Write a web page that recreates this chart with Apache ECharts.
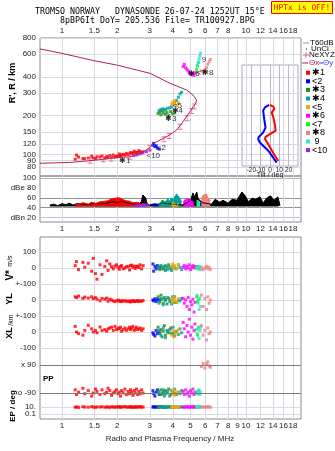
<!DOCTYPE html>
<html>
<head>
<meta charset="utf-8">
<script src="https://cdn.jsdelivr.net/npm/echarts@6.0.0/dist/echarts.min.js"></script>
<style>
  html, body { margin: 0; padding: 0; background: #fff; }
  #chart { width: 335px; height: 451px; }
</style>
</head>
<body>
<div id="chart"></div>
<script>
// axis ticks
const freqTicks = [1, 1.5, 2, 3, 4, 5, 6, 7, 8, 9, 10, 12, 14, 16, 18];
const freqLabelsTop = [1, 1.5, 2, 3, 4, 5, 6, 7, 8, 10, 12, 14, 16, 18];
const heightTicks = [80, 90, 100, 120, 150, 200, 300, 400, 600, 800];
const dbeTicks = [100, 80, 60, 40, 20];
const dbeTickText = ['100', 'dBe 80', '60', '40', 'dBn 20'];
const dbeLines = [20, 40, 60, 100];
const lowTicks = [500, 400, 300, 200, 100, 0, -100, -206, -381, -469, -512];
const lowTickText = ['100', '0', '+-100', '0', '+-100', '0', '-100', 'x 90', 'o -90', '10.', '0.1'];
const tiltTicks = [-20, -10, 0, 10, 20];

// profile (freq MHz, height km)
const profFreq = [0.76, 1.0, 1.5, 1.98, 3.01, 3.87, 4.76, 5.15, 5.39, 5.34, 5.15, 4.96, 4.56, 4.2, 3.86, 3.55, 3.14, 3.0, 2.65, 2.34, 1.98, 1.68, 1.42, 1.1, 0.76];
const profHeight = [658, 608, 533, 494, 426, 356, 316, 289, 264, 251, 234, 215, 180, 155, 142, 133, 122, 113, 101, 96, 94.4, 91.8, 89.5, 86.7, 85.5];
const neFreq = [1.42, 1.68, 1.85, 2.34, 3.0, 3.58, 3.83, 4.38, 4.79, 5.07, 5.24];
const neHeight = [89.5, 91.8, 93, 96, 113, 131, 139, 164, 191, 217, 235];

// echoes: frequency, virtual height, amplitude, V*, YL, XL, PP, EP
const fRed = [1.18,1.2,1.23,1.3,1.33,1.39,1.45,1.48,1.52,1.55,1.61,1.65,1.71,1.75,1.78,1.82,1.86,1.9,1.94,1.98,2.02,2.05,2.08,2.11,2.15,2.2,2.24,2.29,2.33,2.36,2.39,2.43,2.47,2.5,2.54,2.58,2.62,2.66,2.71,2.76];
const hRed = [92,99,95.6,93,92.8,94,97,94,93,96,95.6,97.5,94,96,95.6,98,96,99,95.6,97,97.3,101,98,99,100,99,102,100,101,103.5,101.7,103,106,102.5,104,103.5,107,105,103.5,105];
const aRed = [47,49,46,50,48,47,51,49,48,50,52,50,53,55,54,57,58,60,59,61,60,58,59,57,56,55,54,56,53,52,51,53,50,49,51,48,50,47,46,48];
const vRed = [15,40,-10,35,5,30,-20,60,-35,-70,20,-40,10,45,-15,25,8,-5,12,20,5,-8,10,15,-5,0,8,10,-12,15,18,5,12,-3,8,12,2,20,-6,15];
const ylRed = [20,15,25,10,18,12,20,8,15,5,-5,10,5,12,-8,5,0,-5,-10,-5,0,-8,-5,-10,-3,-8,-5,-10,-5,-12,-8,-3,-10,-5,-8,-3,-10,-5,-8,-3];
const xlRed = [35,0,-10,-20,10,42,20,0,10,-5,31,10,15,5,20,25,30,10,35,15,25,20,30,5,15,25,10,20,30,15,25,35,10,20,30,15,20,25,10,20];
const ppRed = [-70,-100,-85,-60,-95,-75,-110,-90,-65,-80,-100,-70,-95,-85,-60,-75,-105,-90,-80,-70,-95,-85,-110,-75,-90,-65,-100,-80,-95,-70,-85,-105,-75,-90,-65,-100,-80,-95,-70,-90];
const epRed = [9,11,8,12,10,9,13,10,8,11,10,12,9,10,11,8,12,10,9,11,10,12,9,10,11,13,10,9,12,10,11,8,10,12,9,11,10,13,9,10];

const fBlue = [3.12,3.15,3.2,3.25,3.3,3.38];
const hBlue = [118,122,115,117,112,110];
const aBlue = [46,50,48,52,47,45];
const vBlue = [25,-20,10,-5,15,0];
const ylBlue = [0,-5,8,-10,5,0];
const xlBlue = [-5,-15,-25,10,-10,0];
const ppBlue = [-75,-95,-110,-85,-70,-100];
const epBlue = [10,12,9,11,10,13];

const fGreen = [3.33,3.4,3.45,3.5,3.55,3.6,3.65,3.72,3.8,3.9,4.0,4.1];
const hGreen = [208,214,203,218,210,222,205,212,200,215,207,210];
const aGreen = [48,52,46,55,50,47,53,49,45,51,48,46];
const vGreen = [5,-10,15,0,-5,10,-15,5,20,-5,10,0];
const ylGreen = [20,-10,30,5,-20,15,0,-25,10,-5,20,-15];
const xlGreen = [30,-10,15,-30,5,40,-20,10,-5,25,-15,0];
const ppGreen = [-80,-100,-70,-95,-85,-110,-75,-90,-65,-100,-80,-95];
const epGreen = [9,11,10,12,8,10,11,9,12,10,9,11];

const fTeal = [3.37,3.45,3.55,3.65,3.75,3.85,3.94,4.02,4.1,4.2,4.29,4.38,4.47];
const hTeal = [219,224,226,222,228,230,234,248,255,262,278,295,304];
const aTeal = [48,52,55,50,58,53,60,55,62,68,64,58,52];
const vTeal = [0,10,-5,15,-10,5,-15,10,0,-5,20,5,-10];
const ylTeal = [-20,10,-30,0,15,-10,-25,5,20,-15,0,-5,10];
const xlTeal = [10,-20,25,-35,0,15,-10,30,-25,5,-15,20,-5];
const ppTeal = [-85,-100,-70,-95,-80,-110,-75,-90,-65,-100,-85,-95,-75];
const epTeal = [10,9,11,8,12,10,9,11,10,12,9,10,11];

const fOrange = [3.95,4.0,4.05,4.1,4.2,4.3];
const hOrange = [245,255,250,262,240,252];
const aOrange = [45,52,55,48,42,50];
const vOrange = [10,25,0,15,-5,20];
const ylOrange = [5,-10,15,0,-15,8];
const xlOrange = [-20,10,-30,5,-10,15];
const ppOrange = [-80,-95,-70,-105,-85,-90];
const epOrange = [10,12,9,11,10,9];

const fMagenta = [4.56,4.62,4.7,4.78,4.85,4.92,5.0,5.08,5.15,5.22,5.28];
const hMagenta = [480,500,470,455,445,430,420,415,425,410,430];
const aMagenta = [50,55,52,57,54,58,53,56,52,55,50];
const vMagenta = [5,15,-5,10,0,20,-10,5,15,0,10];
const ylMagenta = [10,-20,0,-40,15,-60,-10,-30,5,-75,-15];
const xlMagenta = [60,20,-30,40,0,80,-20,30,-45,10,50];
const ppMagenta = [-80,-100,-70,-95,-85,-110,-75,-90,-65,-100,-85];
const epMagenta = [10,9,11,12,10,9,11,10,12,9,10];

const fLime = [5.38,5.45,5.52];
const hLime = [455,485,515];
const aLime = [55,58,52];
const vLime = [0,10,-5];
const ylLime = [20,-10,5];
const xlLime = [15,-20,30];
const ppLime = [-85,-95,-75];
const epLime = [10,11,9];

const fSalmon = [5.72,5.85,5.98,6.1,6.2,6.3,6.4];
const hSalmon = [445,440,455,470,500,525,545];
const aSalmon = [58,65,62,68,60,64,55];
const vSalmon = [5,-10,0,10,-5,5,-8];
const ylSalmon = [30,-40,10,-60,20,-20,0];
const xlSalmon = [40,-20,10,-50,25,-10,0];
const ppSalmon = [80,100,70,95,110,85,75];
const epSalmon = [10,11,9,12,10,11,9];

const fCyan = [5.43,5.5,5.56,5.62,5.66];
const hCyan = [490,520,550,580,610];
const aCyan = [55,58,56,52,50];
const vCyan = [-5,5,10,0,-10];
const ylCyan = [30,-20,-60,10,-40];
const xlCyan = [-10,25,-40,10,30];
const ppCyan = [-80,-95,-70,-100,-85];
const epCyan = [10,12,9,11,10];

const fPurple = [2.45,2.55,2.65,2.75,2.88,3.0];
const hPurple = [98,99,101,103,105,108];
const aPurple = [44,46,45,48,47,44];

// unclassified amplitude
const fBlack = [0.86,0.9,0.95,1.0,1.05,1.1,1.15,1.2,1.3,1.4,1.5,1.6,1.7,1.8,1.9,2.0,2.1,2.2,2.3,2.4,2.5,2.6,2.7,2.75,2.8,2.85,2.9,3.0,3.1,3.3,3.5,3.7,4.0,4.2,4.5,4.8,5.0,5.15,5.25,5.4,5.5,5.8,6.2,6.5,6.8,7.2,7.5,8.0,8.4,8.9,9.3,9.5,9.9,10.3,10.8,11.3,11.9,12.4,12.9,13.6,14.2,14.9,15.3];
const aBlack = [45,47,44,48,46,49,45,48,47,46,49,47,48,50,52,50,53,51,49,48,47,46,52,66,69,60,48,45,47,46,50,48,47,46,45,50,55,70,62,72,58,50,48,47,57,51,55,49,57,55,66,72,64,52,59,57,62,49,59,64,55,62,44];

// echo labels
const labelText = ['✱1', '<10', '<2', '✱3', '✱4', '<5', '✱6', '<7', '✱8', '9'];
const labelFreq = [2.04, 2.88, 3.28, 3.63, 3.94, 4.0, 4.86, 5.39, 5.77, 5.75];
const labelHeight = [90, 97, 112, 189, 219, 240, 419, 428, 428, 538];

// tilt profiles
const tiltYHeight = [242,232,219,188,162,148,137,132,124,117,107,98.6,91.8,86.4];
const tiltY = [-0.8,-5.4,-7.3,-6.2,-4.8,-7.3,-12,-12.7,-10.9,-7.3,-1.8,1.8,4.7,7.2];
const tiltXHeight = [242,235,226,212,194,167,153,144,137,132,120,108,97.5,89];
const tiltX = [-0.1,3.6,4.7,1.8,3.6,5.4,6.1,-0.1,-4.8,-5.4,-1.8,1.8,5.4,9.0];

const legendNames = ['✱1', '<2', '✱3', '✱4', '<5', '✱6', '<7', '✱8', ' 9', '<10'];

const groups = [
  { name: '✱1', color: '#ff0000', f: fRed, h: hRed, a: aRed, v: vRed, yl: ylRed, xl: xlRed, pp: ppRed, ep: epRed },
  { name: '<10', color: '#a020f0', f: fPurple, h: hPurple, a: aPurple },
  { name: '<2', color: '#0000ff', f: fBlue, h: hBlue, a: aBlue, v: vBlue, yl: ylBlue, xl: xlBlue, pp: ppBlue, ep: epBlue },
  { name: '✱3', color: '#228b22', f: fGreen, h: hGreen, a: aGreen, v: vGreen, yl: ylGreen, xl: xlGreen, pp: ppGreen, ep: epGreen },
  { name: '✱4', color: '#00a0a0', f: fTeal, h: hTeal, a: aTeal, v: vTeal, yl: ylTeal, xl: xlTeal, pp: ppTeal, ep: epTeal },
  { name: '<5', color: '#ffa500', f: fOrange, h: hOrange, a: aOrange, v: vOrange, yl: ylOrange, xl: xlOrange, pp: ppOrange, ep: epOrange },
  { name: '✱6', color: '#ff00ff', f: fMagenta, h: hMagenta, a: aMagenta, v: vMagenta, yl: ylMagenta, xl: xlMagenta, pp: ppMagenta, ep: epMagenta },
  { name: '<7', color: '#00ff00', f: fLime, h: hLime, a: aLime, v: vLime, yl: ylLime, xl: xlLime, pp: ppLime, ep: epLime },
  { name: '9', color: '#30e0d0', f: fCyan, h: hCyan, a: aCyan, v: vCyan, yl: ylCyan, xl: xlCyan, pp: ppCyan, ep: epCyan },
  { name: '✱8', color: '#f08080', f: fSalmon, h: hSalmon, a: aSalmon, v: vSalmon, yl: ylSalmon, xl: xlSalmon, pp: ppSalmon, ep: epSalmon }
];
const legendColors = ['#ff0000', '#0000ff', '#228b22', '#00a0a0', '#ffa500', '#ff00ff', '#00ff00', '#f08080', '#30e0d0', '#a020f0'];

// stacked offsets on the lower panel axis
const V_OFF = 400;
const YL_OFF = 200;
const ppPos = d => -293.5 + d * 0.972;
const epPos = d => -469 + (Math.log10(d) - 1) * 21.75;

const zip = (xs, ys) => xs.map((x, i) => [x, ys[i]]);

const LABEL_FONT = 'Liberation Sans';
const gridLine = '#d8d8e2';
const FMIN = 0.76, FMAX = 19.9;
const HMIN = 68.1, HMAX = 800;
const LOW_MIN = -543.75, LOW_MAX = 593.75;

// ticks too close to a neighbour go on an overlay grid so both labels are kept
const heightLabelsMain = heightTicks.filter(v => v !== 90);
const heightLabelsExtra = [90];
const lowLabelsMain = lowTicks.filter(v => v !== -469);
const lowLabelsExtra = [-469];
const lowLabel = v => lowTickText[lowTicks.indexOf(v)];

function freqAxis(gridIndex, labels, position) {
  return {
    type: 'log', logBase: 10, gridIndex, min: FMIN, max: FMAX, position,
    axisLine: { show: false },
    axisTick: { show: false, customValues: freqTicks },
    axisLabel: { customValues: labels, fontSize: 8, color: '#222', fontFamily: LABEL_FONT, margin: 3 },
    splitLine: { show: true, lineStyle: { color: gridLine, width: 1 } }
  };
}

const series = [];

// top panel echoes
groups.forEach(g => {
  series.push({
    type: 'scatter', name: g.name, xAxisIndex: 0, yAxisIndex: 0,
    symbol: 'rect', symbolSize: 3, itemStyle: { color: g.color },
    data: zip(g.f, g.h), silent: true
  });
});
series.push({
  type: 'line', xAxisIndex: 0, yAxisIndex: 0, showSymbol: false, silent: true,
  lineStyle: { color: '#b2224f', width: 1 }, data: zip(profFreq, profHeight)
});
series.push({
  type: 'scatter', xAxisIndex: 0, yAxisIndex: 0, silent: true,
  symbol: 'path://M0,0h6v1h-6z M2.5,1h1v4h-1z M0,5h6v1h-6z', symbolSize: [5, 6],
  itemStyle: { color: '#e0559a' }, data: zip(neFreq, neHeight)
});
series.push({
  type: 'scatter', xAxisIndex: 0, yAxisIndex: 0, silent: true, symbolSize: 0,
  data: labelFreq.map((f, i) => ({ value: [f, labelHeight[i]], name: labelText[i] })),
  label: {
    show: true, position: [0, 0], align: 'left', verticalAlign: 'middle',
    formatter: p => p.name, color: '#000', fontSize: 8, fontFamily: LABEL_FONT
  }
});

// inset tilt profiles
series.push({
  type: 'line', xAxisIndex: 3, yAxisIndex: 3, showSymbol: false, silent: true,
  lineStyle: { color: '#0000ff', width: 2 }, data: zip(tiltY, tiltYHeight)
});
series.push({
  type: 'line', xAxisIndex: 3, yAxisIndex: 3, showSymbol: false, silent: true,
  lineStyle: { color: '#ff0000', width: 2 }, data: zip(tiltX, tiltXHeight)
});

// amplitude panel
series.push({
  type: 'line', xAxisIndex: 1, yAxisIndex: 1, showSymbol: false, silent: true,
  lineStyle: { color: '#000', width: 1 }, areaStyle: { color: '#000', opacity: 1, origin: 42 },
  data: zip(fBlack, aBlack)
});
groups.forEach(g => {
  series.push({
    type: 'line', xAxisIndex: 1, yAxisIndex: 1, showSymbol: false, silent: true,
    lineStyle: { color: g.color, width: 1 }, areaStyle: { color: g.color, opacity: 1, origin: 42 },
    data: zip(g.f, g.a)
  });
});

// lower panel: V*, YL, XL, PP, EP
series.push({
  type: 'line', xAxisIndex: 2, yAxisIndex: 2, data: [], silent: true,
  markLine: {
    silent: true, symbol: 'none', label: { show: false },
    lineStyle: { color: '#7a7a7a', width: 1, type: 'solid' },
    data: [{ yAxis: lowTicks[7] }, { yAxis: lowTicks[8] }]
  }
});
groups.forEach(g => {
  if (!g.v) return;
  const pts = [];
  g.f.forEach((f, i) => {
    pts.push([f, V_OFF + g.v[i]]);
    pts.push([f, YL_OFF + g.yl[i]]);
    pts.push([f, g.xl[i]]);
    pts.push([f, ppPos(g.pp[i])]);
    pts.push([f, epPos(g.ep[i])]);
  });
  series.push({
    type: 'scatter', xAxisIndex: 2, yAxisIndex: 2, silent: true,
    symbol: 'rect', symbolSize: 3, itemStyle: { color: g.color }, data: pts
  });
});

const graphic = [
  { type: 'text', x: 35, y: 12, style: { text: 'TROMSO NORWAY   DYNASONDE 26-07-24 1252UT 15°E', font: '8.3px "DejaVu Sans Mono"', fill: '#000', verticalAlign: 'middle' } },
  { type: 'text', x: 60, y: 20.5, style: { text: '8pBP6It DoY= 205.536 File= TR100927.BPG', font: '8.3px "DejaVu Sans Mono"', fill: '#000', verticalAlign: 'middle' } },
  { type: 'rect', shape: { x: 271.5, y: 1.5, width: 61, height: 12 }, style: { fill: '#ffff00', stroke: '#ff0000', lineWidth: 1 } },
  { type: 'text', x: 302, y: 8, style: { text: 'HPTx is OFF!', font: '7.8px "DejaVu Sans Mono"', fill: '#ff0000', align: 'center', verticalAlign: 'middle' } },
  { type: 'text', x: 13, y: 83, rotation: Math.PI / 2, style: { text: "R', R / km", font: 'bold 9px "Liberation Sans"', fill: '#000', align: 'center', verticalAlign: 'middle' } },
  { type: 'text', x: 10, y: 268, rotation: Math.PI / 2, style: { text: '{a|V*} {b|m/s}', align: 'center', verticalAlign: 'middle', rich: { a: { font: 'bold 10px "Liberation Sans"', fill: '#000' }, b: { font: '7px "Liberation Sans"', fill: '#000' } } } },
  { type: 'text', x: 10, y: 299, rotation: Math.PI / 2, style: { text: 'YL', font: 'bold 9px "Liberation Sans"', fill: '#000', align: 'center', verticalAlign: 'middle' } },
  { type: 'text', x: 11, y: 320, rotation: Math.PI / 2, style: { text: '/km', font: '7px "Liberation Sans"', fill: '#000', align: 'center', verticalAlign: 'middle' } },
  { type: 'text', x: 10, y: 333, rotation: Math.PI / 2, style: { text: 'XL', font: 'bold 9px "Liberation Sans"', fill: '#000', align: 'center', verticalAlign: 'middle' } },
  { type: 'text', x: 13, y: 406, rotation: Math.PI / 2, style: { text: 'EP / deg', font: 'bold 8px "Liberation Sans"', fill: '#000', align: 'center', verticalAlign: 'middle' } },
  { type: 'text', x: 43, y: 379, style: { text: 'PP', font: 'bold 8px "Liberation Sans"', fill: '#000', verticalAlign: 'middle' } },
  { type: 'text', x: 170, y: 439, style: { text: 'Radio and Plasma Frequency / MHz', font: '8px "Liberation Sans"', fill: '#222', align: 'center', verticalAlign: 'middle' } },
  { type: 'text', x: 270, y: 175, style: { text: 'Tilt / deg', font: '7px "Liberation Sans"', fill: '#222', align: 'center', verticalAlign: 'middle' } },
  // legend header items
  { type: 'line', shape: { x1: 303, y1: 43, x2: 309, y2: 43 }, style: { stroke: '#999', lineWidth: 1 } },
  { type: 'text', x: 310, y: 43, style: { text: 'T60dB', font: '8px "Liberation Sans"', fill: '#000', verticalAlign: 'middle' } },
  { type: 'rect', shape: { x: 306, y: 48.5, width: 1, height: 1 }, style: { fill: '#000' } },
  { type: 'text', x: 311, y: 49, style: { text: 'UnCl', font: '8px "Liberation Sans"', fill: '#000', verticalAlign: 'middle' } },
  { type: 'line', shape: { x1: 303, y1: 55, x2: 309, y2: 55 }, style: { stroke: '#e0559a', lineWidth: 1 } },
  { type: 'line', shape: { x1: 306, y1: 52.5, x2: 306, y2: 57.5 }, style: { stroke: '#e0559a', lineWidth: 1 } },
  { type: 'text', x: 309, y: 55, style: { text: 'NeXYZ', font: '8px "Liberation Sans"', fill: '#000', verticalAlign: 'middle' } },
  { type: 'line', shape: { x1: 302, y1: 63, x2: 308, y2: 63 }, style: { stroke: '#b2224f', lineWidth: 1 } },
  { type: 'text', x: 309, y: 63, style: { text: 'Θx', font: '8px "Liberation Sans"', fill: '#b2224f', verticalAlign: 'middle' } },
  { type: 'line', shape: { x1: 319, y1: 63, x2: 323, y2: 63 }, style: { stroke: '#4040ff', lineWidth: 1 } },
  { type: 'text', x: 323, y: 63, style: { text: 'Θy', font: '8px "Liberation Sans"', fill: '#4040ff', verticalAlign: 'middle' } }
];
legendNames.forEach((n, i) => {
  const y = 72.7 + i * 8.6;
  graphic.push({ type: 'rect', shape: { x: 306, y: y - 2, width: 4, height: 4 }, style: { fill: legendColors[i] } });
  graphic.push({ type: 'text', x: 312, y: y, style: { text: n, font: '9px "Liberation Sans"', fill: '#000', verticalAlign: 'middle' } });
});

const hiddenX = gridIndex => ({ type: 'value', gridIndex, min: 0, max: 1, show: false });

const option = {
  animation: false,
  backgroundColor: '#fff',
  grid: [
    { left: 40, top: 38, width: 261, height: 138, show: true, borderColor: '#8a8a8a', borderWidth: 1, outerBoundsMode: 'none' },
    { left: 40, top: 176, width: 261, height: 46, show: true, borderColor: '#8a8a8a', borderWidth: 1, outerBoundsMode: 'none' },
    { left: 40, top: 237, width: 261, height: 182, show: true, borderColor: '#8a8a8a', borderWidth: 1, outerBoundsMode: 'none' },
    { left: 242, top: 65, width: 56, height: 101, show: true, borderColor: '#a8a8c8', borderWidth: 1, outerBoundsMode: 'none' },
    // overlays for the crowded labels
    { left: 40, top: 38, width: 261, height: 138, outerBoundsMode: 'none' },
    { left: 40, top: 237, width: 261, height: 182, outerBoundsMode: 'none' }
  ],
  xAxis: [
    freqAxis(0, freqLabelsTop, 'top'),
    freqAxis(1, freqTicks, 'bottom'),
    freqAxis(2, freqTicks, 'bottom'),
    {
      type: 'value', gridIndex: 3, min: -30, max: 30, position: 'bottom',
      axisLine: { show: false },
      axisTick: { show: false, customValues: tiltTicks },
      axisLabel: { customValues: tiltTicks, fontSize: 6.5, color: '#222', fontFamily: LABEL_FONT, margin: 1 },
      splitLine: { show: true, lineStyle: { color: '#b8b8cc', width: 1 } }
    },
    hiddenX(4),
    hiddenX(5)
  ],
  yAxis: [
    {
      type: 'log', logBase: 10, gridIndex: 0, min: HMIN, max: HMAX,
      axisLine: { show: false },
      axisTick: { show: false, customValues: heightTicks },
      axisLabel: {
        customValues: heightLabelsMain, fontSize: 8, color: '#222', fontFamily: LABEL_FONT, margin: 4,
        showMinLabel: true, showMaxLabel: true
      },
      splitLine: { show: true, lineStyle: { color: gridLine, width: 1 } }
    },
    {
      type: 'value', gridIndex: 1, min: 10.4, max: 104.7,
      axisLine: { show: false },
      axisTick: { show: false, customValues: dbeLines },
      axisLabel: {
        customValues: dbeTicks, fontSize: 8, color: '#222', fontFamily: LABEL_FONT, margin: 4,
        showMinLabel: true, showMaxLabel: true,
        formatter: v => dbeTickText[dbeTicks.indexOf(v)]
      },
      splitLine: { show: true, lineStyle: { color: ['#c0c0e0', '#909090', '#909090', '#b0b0b0'], width: 1 } }
    },
    {
      type: 'value', gridIndex: 2, min: LOW_MIN, max: LOW_MAX,
      axisLine: { show: false },
      axisTick: { show: false, customValues: lowTicks },
      axisLabel: {
        customValues: lowLabelsMain, fontSize: 8, color: '#222', fontFamily: LABEL_FONT, margin: 4,
        showMinLabel: true, showMaxLabel: true, formatter: lowLabel
      },
      splitLine: { show: true, lineStyle: { color: gridLine, width: 1 } }
    },
    {
      type: 'log', logBase: 10, gridIndex: 3, min: 81.5, max: 494,
      axisLine: { show: false }, axisTick: { show: false }, axisLabel: { show: false },
      splitLine: { show: false }
    },
    {
      type: 'log', logBase: 10, gridIndex: 4, min: HMIN, max: HMAX,
      axisLine: { show: false }, axisTick: { show: false }, splitLine: { show: false },
      axisLabel: { customValues: heightLabelsExtra, fontSize: 8, color: '#222', fontFamily: LABEL_FONT, margin: 4, showMinLabel: true, showMaxLabel: true }
    },
    {
      type: 'value', gridIndex: 5, min: LOW_MIN, max: LOW_MAX,
      axisLine: { show: false }, axisTick: { show: false }, splitLine: { show: false },
      axisLabel: { customValues: lowLabelsExtra, fontSize: 8, color: '#222', fontFamily: LABEL_FONT, margin: 4, showMinLabel: true, showMaxLabel: true, formatter: lowLabel }
    }
  ],
  graphic,
  series
};

const chart = echarts.init(document.getElementById('chart'), null, { renderer: 'canvas' });
chart.setOption(option);
</script>
</body>
</html>
